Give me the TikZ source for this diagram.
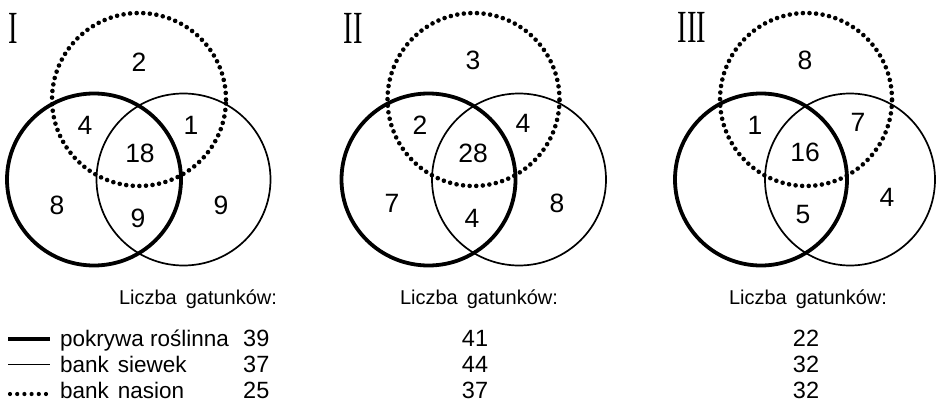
\documentclass[tikz,border=0pt]{standalone}
\usepackage{fontspec}
\setsansfont{Liberation Sans}
\newfontfamily\romnum{Liberation Serif}
\begin{document}
\begin{tikzpicture}[x=1pt,y=-1pt,
  thickc/.style={line width=3.8pt},
  thinc/.style={line width=1.7pt},
  dotc/.style={line width=4.6pt, dash pattern=on 0pt off 6.6pt, line cap=round},
  num/.style={font=\sffamily\fontsize{26.5}{30}\selectfont, inner sep=0pt},
  roman/.style={font=\romnum\fontsize{46}{50}\selectfont, inner sep=0pt},
  head/.style={font=\sffamily\fontsize{20}{24}\selectfont, inner sep=0pt, anchor=base},
  legtext/.style={font=\sffamily\fontsize{22.5}{26}\selectfont, inner sep=0pt, anchor=base west},
  legnum/.style={font=\sffamily\fontsize{23.5}{27}\selectfont, inner sep=0pt},
]
\useasboundingbox (0,0) rectangle (937,404);

% ---------- Diagram I ----------
\draw[thinc]  (183.5,179.5) ellipse [x radius=87pt, y radius=86pt];
\draw[thickc] (94,179.5) ellipse [x radius=87pt, y radius=86pt];
\draw[dotc]   (139,99.5) ellipse [x radius=87pt, y radius=86.5pt];
\node[roman] (rI) at (13,28) {\scalebox{0.62}[1]{I}};
\node[num] (a1) at (139,62) {2};
\node[num] (a2) at (85,125) {4};
\node[num] (a3) at (191,125) {1};
\node[num] (a4) at (140,153) {18};
\node[num] (a5) at (57,205) {8};
\node[num] (a6) at (138,218) {9};
\node[num] (a7) at (221,205) {9};

% ---------- Diagram II ----------
\draw[thinc]  (519,179.5) ellipse [x radius=87pt, y radius=86pt];
\draw[thickc] (428.5,179.5) ellipse [x radius=87pt, y radius=86pt];
\draw[dotc]   (473.5,99.5) ellipse [x radius=86pt, y radius=86.5pt];
\node[roman] (rII) at (353,28) {\scalebox{0.62}[1]{II}};
\node[num] (b1) at (473,60) {3};
\node[num] (b2) at (420,125) {2};
\node[num] (b3) at (523,123) {4};
\node[num] (b4) at (473,153) {28};
\node[num] (b5) at (392,203) {7};
\node[num] (b6) at (472,218) {4};
\node[num] (b7) at (557,203) {8};

% ---------- Diagram III ----------
\draw[thinc]  (850,179.5) ellipse [x radius=85pt, y radius=86pt];
\draw[thickc] (761,179.5) ellipse [x radius=86pt, y radius=86pt];
\draw[dotc]   (806,99.5) ellipse [x radius=86pt, y radius=86.5pt];
\node[roman] (rIII) at (692,27) {\scalebox{0.62}[1]{III}};
\node[num] (c1) at (805,60) {8};
\node[num] (c2) at (755,125) {1};
\node[num] (c3) at (858,122) {7};
\node[num] (c4) at (805,152) {16};
\node[num] (c5) at (803,215) {5};
\node[num] (c6) at (887,197) {4};

% ---------- Legend ----------
\node[head] (h1) at (198,304) {Liczba\hspace{0.45em}gatunków:};
\node[head] (h2) at (479,304) {Liczba\hspace{0.45em}gatunków:};
\node[head] (h3) at (808,304) {Liczba\hspace{0.45em}gatunków:};

\coordinate (l1a) at (8,339);  \coordinate (l1b) at (50,339);
\coordinate (l2a) at (8,364.5);  \coordinate (l2b) at (50,364.5);
\coordinate (l3a) at (10,394); \coordinate (l3b) at (48,394);
\draw[line width=4.4pt] (l1a) -- (l1b);
\draw[thinc] (l2a) -- (l2b);
\draw[line width=4.2pt, dash pattern=on 0pt off 7.2pt, line cap=round] (l3a) -- (l3b);

\node[legtext] (t1) at (60,346) {pokrywa roślinna};
\node[legtext] (t2) at (60,372) {bank\hspace{0.4em}siewek};
\node[legtext] (t3) at (60,398) {bank\hspace{0.4em}nasion};

\node[legnum, anchor=base west] (n11) at (243,346) {39};
\node[legnum, anchor=base west] (n12) at (243,372) {37};
\node[legnum, anchor=base west] (n13) at (243,398) {25};

\node[legnum, anchor=base] (n21) at (475,346) {41};
\node[legnum, anchor=base] (n22) at (475,372) {44};
\node[legnum, anchor=base] (n23) at (475,398) {37};

\node[legnum, anchor=base] (n31) at (806,346) {22};
\node[legnum, anchor=base] (n32) at (806,372) {32};
\node[legnum, anchor=base] (n33) at (806,398) {32};
\end{tikzpicture}
\end{document}
